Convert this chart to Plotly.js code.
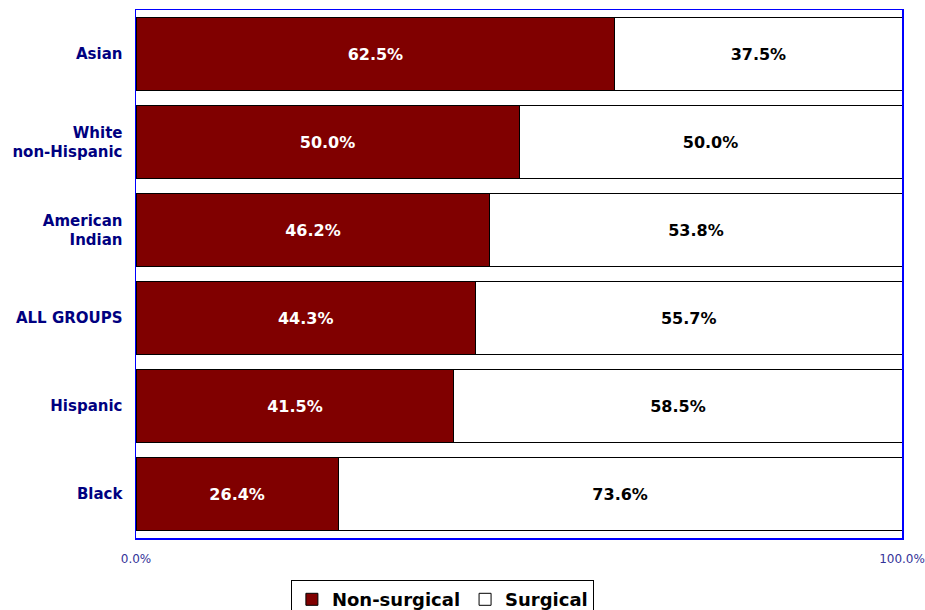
<!DOCTYPE html>
<html>
<head>
<meta charset="utf-8">
<script src="https://cdn.plot.ly/plotly-3.0.1.min.js"></script>
<style>html,body{margin:0;padding:0;background:#fff;}#chart{width:925px;height:610px;}</style>
</head>
<body>
<div id="chart"></div>
<script>
var categories = ["Asian", "White<br>non-Hispanic", "American<br>Indian", "ALL GROUPS", "Hispanic", "Black"];
var nonSurgical = [62.5, 50.0, 46.2, 44.3, 41.5, 26.4];
var surgical = [37.5, 50.0, 53.8, 55.7, 58.5, 73.6];
var tickVals = [0, 100];
var tickText = ["0.0%", "100.0%"];

var common = {
  type: 'bar',
  orientation: 'h',
  y: categories,
  textposition: 'inside',
  insidetextanchor: 'middle',
  constraintext: 'none',
  texttemplate: '%{x:.1f}%',
  hoverinfo: 'skip'
};

var t1 = Object.assign({}, common, {
  name: 'Non-surgical',
  x: nonSurgical,
  marker: {color: '#800000', line: {color: '#000000', width: 1}},
  textfont: {family: 'DejaVu Sans', size: 16, color: '#ffffff', weight: 'bold'}
});
var t2 = Object.assign({}, common, {
  name: 'Surgical',
  x: surgical,
  marker: {color: '#ffffff', line: {color: '#000000', width: 1}},
  textfont: {family: 'DejaVu Sans', size: 16, color: '#000000', weight: 'bold'}
});

var layout = {
  width: 925, height: 610,
  margin: {l: 136, r: 23, t: 10, b: 72, pad: 0},
  barmode: 'stack',
  bargap: 0.16,
  paper_bgcolor: '#ffffff',
  plot_bgcolor: '#ffffff',
  showlegend: true,
  legend: {
    orientation: 'h',
    xref: 'paper',
    x: 0.4, xanchor: 'center',
    yref: 'container',
    y: 0.049, yanchor: 'top',
    bordercolor: '#000000', borderwidth: 1,
    bgcolor: '#ffffff',
    font: {family: 'DejaVu Sans', size: 18, color: '#000000', weight: 'bold'},
    itemwidth: 30,
    traceorder: 'normal'
  },
  xaxis: {
    range: [0, 100],
    tickvals: tickVals,
    ticktext: tickText,
    showgrid: false,
    zeroline: false,
    showline: true,
    mirror: true,
    linecolor: '#0000ff',
    linewidth: 1.5,
    ticks: '',
    ticklabelstandoff: 9,
    tickfont: {family: 'DejaVu Sans', size: 12, color: '#333399'},
    fixedrange: true,
    automargin: false
  },
  yaxis: {
    autorange: 'reversed',
    type: 'category',
    showgrid: false,
    zeroline: false,
    showline: true,
    mirror: true,
    linecolor: '#0000ff',
    linewidth: 1.5,
    ticks: '',
    ticklabelstandoff: 9,
    tickfont: {family: 'DejaVu Sans', size: 15, color: '#000080', weight: 'bold'},
    fixedrange: true,
    automargin: false
  }
};

Plotly.newPlot('chart', [t1, t2], layout, {displayModeBar: false, staticPlot: true});
</script>
</body>
</html>
